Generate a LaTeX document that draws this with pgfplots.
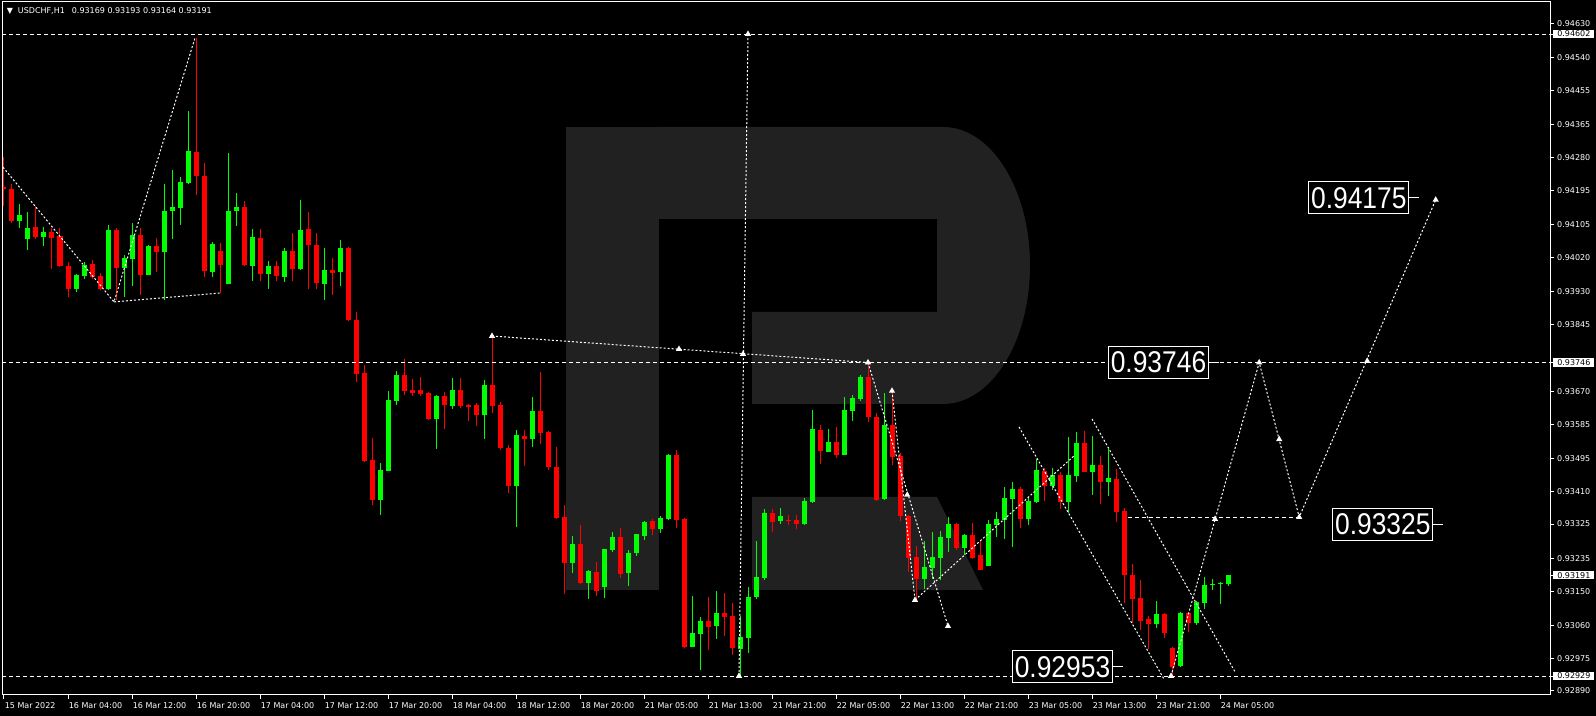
\documentclass[border=0pt]{standalone}
\usepackage{pgfplots}
\pgfplotsset{compat=1.18}
\usepackage{pgfplotstable}
\usepackage{graphicx}
\usepackage{fontspec}
\setmainfont{DejaVu Sans}
\newfontfamily\bigfont{Liberation Sans}
\definecolor{bull}{RGB}{0,255,0}
\definecolor{bear}{RGB}{255,0,0}
\definecolor{logo}{RGB}{33,33,33}

\pgfplotstableread{
x o h l c
2 0.94115 0.94159 0.94097 0.94130
3 0.94068 0.94138 0.94039 0.94096
5 0.94073 0.94099 0.94050 0.94086
9 0.93938 0.93977 0.93930 0.93974
10 0.93971 0.94008 0.93964 0.94000
13 0.93938 0.94104 0.93935 0.94091
15 0.93993 0.94026 0.93917 0.94018
16 0.94016 0.94110 0.93945 0.94078
18 0.93974 0.94052 0.93973 0.94050
20 0.94035 0.94211 0.93909 0.94141
21 0.94141 0.94248 0.94068 0.94151
22 0.94149 0.94229 0.94104 0.94216
23 0.94214 0.94401 0.94212 0.94297
26 0.93982 0.94060 0.93970 0.94055
28 0.93951 0.94292 0.93950 0.94141
29 0.94141 0.94188 0.94102 0.94151
31 0.93998 0.94094 0.93959 0.94073
33 0.93977 0.94010 0.93938 0.93997
35 0.93969 0.94044 0.93957 0.94037
37 0.93990 0.94170 0.93987 0.94091
40 0.93951 0.94044 0.93909 0.93987
42 0.93982 0.94065 0.93945 0.94044
47 0.93388 0.93484 0.93349 0.93466
48 0.93463 0.93672 0.93462 0.93648
49 0.93646 0.93724 0.93635 0.93713
54 0.93599 0.93661 0.93521 0.93659
56 0.93633 0.93706 0.93625 0.93674
60 0.93609 0.93700 0.93547 0.93687
64 0.93424 0.93570 0.93317 0.93557
66 0.93547 0.93656 0.93526 0.93620
71 0.93224 0.93294 0.93197 0.93273
73 0.93171 0.93205 0.93130 0.93203
75 0.93161 0.93261 0.93132 0.93260
76 0.93257 0.93304 0.93252 0.93291
78 0.93197 0.93257 0.93164 0.93250
79 0.93250 0.93300 0.93242 0.93299
80 0.93294 0.93333 0.93284 0.93330
82 0.93312 0.93346 0.93302 0.93341
83 0.93338 0.93508 0.93336 0.93505
86 0.93005 0.93138 0.93004 0.93041
87 0.93038 0.93083 0.92945 0.93072
89 0.93059 0.93151 0.93025 0.93093
92 0.92999 0.93085 0.92929 0.93031
93 0.93028 0.93161 0.92989 0.93135
94 0.93135 0.93281 0.93130 0.93187
95 0.93184 0.93364 0.93179 0.93354
97 0.93333 0.93367 0.93325 0.93346
100 0.93325 0.93393 0.93322 0.93385
101 0.93382 0.93622 0.93381 0.93573
103 0.93513 0.93573 0.93512 0.93539
105 0.93505 0.93656 0.93504 0.93622
106 0.93620 0.93661 0.93594 0.93654
107 0.93651 0.93713 0.93646 0.93708
110 0.93390 0.93667 0.93388 0.93583
115 0.93182 0.93281 0.93157 0.93213
116 0.93210 0.93304 0.93182 0.93239
117 0.93237 0.93308 0.93179 0.93291
118 0.93289 0.93343 0.93252 0.93325
120 0.93263 0.93299 0.93244 0.93297
123 0.93216 0.93336 0.93215 0.93325
124 0.93322 0.93356 0.93291 0.93338
125 0.93336 0.93422 0.93286 0.93393
126 0.93390 0.93435 0.93265 0.93416
128 0.93338 0.93393 0.93322 0.93385
129 0.93382 0.93495 0.93381 0.93466
131 0.93424 0.93471 0.93414 0.93453
133 0.93382 0.93552 0.93354 0.93453
134 0.93450 0.93565 0.93435 0.93537
136 0.93461 0.93555 0.93401 0.93479
138 0.93435 0.93521 0.93398 0.93445
144 0.93065 0.93124 0.93054 0.93091
147 0.92955 0.93095 0.92953 0.93093
149 0.93067 0.93124 0.93062 0.93122
150 0.93119 0.93187 0.93104 0.93166
151 0.93166 0.93182 0.93153 0.93169
152 0.93169 0.93174 0.93117 0.93171
153 0.93169 0.93193 0.93164 0.93191
}\bulltab

\pgfplotstableread{
x o h l c
0 0.94204 0.94282 0.94155 0.94198
1 0.94198 0.94211 0.94109 0.94115
4 0.94099 0.94154 0.94067 0.94072
6 0.94086 0.94097 0.93990 0.94071
7 0.94076 0.94097 0.93995 0.93998
8 0.93997 0.94008 0.93917 0.93938
11 0.94003 0.94013 0.93964 0.93969
12 0.93971 0.93980 0.93935 0.93938
14 0.94091 0.94097 0.93909 0.93993
17 0.94078 0.94097 0.93922 0.93974
19 0.94050 0.94071 0.93982 0.94035
24 0.94295 0.94592 0.94183 0.94232
25 0.94232 0.94266 0.93970 0.93985
27 0.94037 0.94057 0.93926 0.94000
30 0.94151 0.94167 0.93997 0.94000
32 0.94071 0.94094 0.93959 0.93977
34 0.93997 0.94010 0.93959 0.93971
36 0.94037 0.94084 0.93959 0.93990
38 0.94094 0.94138 0.93938 0.94051
39 0.94052 0.94084 0.93938 0.93953
41 0.93987 0.94018 0.93922 0.93979
43 0.94044 0.94046 0.93855 0.93857
44 0.93857 0.93878 0.93695 0.93716
45 0.93719 0.93740 0.93487 0.93489
46 0.93492 0.93549 0.93375 0.93388
50 0.93713 0.93755 0.93661 0.93672
51 0.93674 0.93703 0.93659 0.93667
52 0.93674 0.93708 0.93659 0.93664
53 0.93667 0.93669 0.93597 0.93599
55 0.93659 0.93669 0.93573 0.93635
57 0.93674 0.93706 0.93627 0.93633
58 0.93635 0.93638 0.93594 0.93630
59 0.93635 0.93641 0.93581 0.93609
61 0.93687 0.93815 0.93614 0.93633
62 0.93635 0.93643 0.93518 0.93523
63 0.93523 0.93531 0.93406 0.93424
65 0.93555 0.93570 0.93476 0.93547
67 0.93620 0.93721 0.93534 0.93562
68 0.93565 0.93568 0.93466 0.93474
69 0.93474 0.93526 0.93338 0.93341
70 0.93343 0.93375 0.93143 0.93224
72 0.93273 0.93322 0.93170 0.93171
74 0.93200 0.93226 0.93138 0.93151
77 0.93291 0.93315 0.93184 0.93195
81 0.93333 0.93338 0.93297 0.93312
84 0.93505 0.93518 0.93315 0.93336
85 0.93338 0.93341 0.93002 0.93005
88 0.93072 0.93135 0.92997 0.93057
90 0.93093 0.93145 0.93033 0.93083
91 0.93085 0.93119 0.92984 0.93002
96 0.93354 0.93364 0.93304 0.93330
98 0.93336 0.93349 0.93322 0.93333
99 0.93336 0.93349 0.93312 0.93325
102 0.93570 0.93583 0.93482 0.93515
104 0.93539 0.93578 0.93497 0.93505
108 0.93708 0.93746 0.93591 0.93604
109 0.93604 0.93614 0.93386 0.93388
111 0.93583 0.93672 0.93479 0.93500
112 0.93502 0.93510 0.93333 0.93346
113 0.93346 0.93349 0.93200 0.93237
114 0.93239 0.93268 0.93127 0.93182
119 0.93325 0.93327 0.93257 0.93263
121 0.93297 0.93328 0.93234 0.93237
122 0.93244 0.93281 0.93204 0.93205
127 0.93416 0.93422 0.93315 0.93338
130 0.93463 0.93471 0.93385 0.93424
132 0.93453 0.93461 0.93364 0.93382
135 0.93537 0.93568 0.93460 0.93461
137 0.93479 0.93502 0.93377 0.93435
139 0.93442 0.93469 0.93330 0.93356
140 0.93359 0.93367 0.93119 0.93192
141 0.93192 0.93221 0.93067 0.93130
142 0.93132 0.93179 0.93049 0.93072
143 0.93078 0.93085 0.92999 0.93065
145 0.93091 0.93093 0.93028 0.93041
146 0.93002 0.93004 0.92929 0.92953
148 0.93093 0.93095 0.93044 0.93067
}\beartab

% 1 reference pixel = 0.25pt
\tikzset{
  lvl/.style={white, line width=0.25pt, dash pattern=on 1pt off 0.75pt},
  trend/.style={white, line width=0.25pt, dash pattern=on 0.5pt off 0.5pt},
  bigbox/.style={draw=white, fill=black, text=white, line width=0.25pt, inner sep=0pt,
    minimum width=25pt, minimum height=8pt, anchor=east,
    font=\bigfont\fontsize{7.5}{7.5}\selectfont},
}

\begin{document}
\begin{tikzpicture}[x=0.25pt,y=0.25pt]
\fill[black] (0,0) rectangle (1596,716);
% watermark logo
\fill[logo] (566,126) rectangle (659,589);
\fill[logo] (659,589) -- (943,589) arc[start angle=90,end angle=-90,x radius=87,y radius=138.5]
  -- (752,312) -- (752,404) -- (937,404) -- (937,497) -- (659,497) -- cycle;
\fill[logo] (752,219) -- (937,219) -- (983,126) -- (752,126) -- cycle;

\begin{axis}[
  at={(0.75pt,5.25pt)}, anchor=south west, scale only axis,
  width=386.75pt, height=173.25pt,
  xmin=-0.125, xmax=193.25, ymin=0.928795, ymax=0.946855,
  axis line style={white, line width=0.25pt},
  tick align=outside, major tick length=1pt,
  tick style={white, line width=0.25pt},
  xtick pos=left, ytick pos=right, yticklabel pos=right,
  scaled y ticks=false, scaled x ticks=false,
  xtick={0,8,...,152},
  xticklabels={15 Mar 2022,16 Mar 04:00,16 Mar 12:00,16 Mar 20:00,17 Mar 04:00,17 Mar 12:00,17 Mar 20:00,18 Mar 04:00,18 Mar 12:00,18 Mar 20:00,21 Mar 05:00,21 Mar 13:00,21 Mar 21:00,22 Mar 05:00,22 Mar 13:00,22 Mar 21:00,23 Mar 05:00,23 Mar 13:00,23 Mar 21:00,24 Mar 05:00},
  ytick={0.94630,0.94540,0.94455,0.94365,0.94280,0.94195,0.94105,0.94020,0.93930,0.93845,0.93670,0.93585,0.93495,0.93410,0.93325,0.93235,0.93150,0.93060,0.92975,0.92890},
  yticklabels={0.94630,0.94540,0.94455,0.94365,0.94280,0.94195,0.94105,0.94020,0.93930,0.93845,0.93670,0.93585,0.93495,0.93410,0.93325,0.93235,0.93150,0.93060,0.92975,0.92890},
  tick label style={font=\fontsize{2}{2.4}\selectfont, text=white, inner sep=0.6pt},
  x tick label style={anchor=north west, xshift=-0.6pt},
  y tick label style={anchor=west},
  extra y ticks={0.94602,0.93746,0.93191,0.92929},
  extra y tick labels={0.94602,0.93746,0.93191,0.92929},
  extra y tick style={yticklabel style={fill=white, text=black, inner xsep=1pt, inner ysep=0.25pt, xshift=-0.375pt}},
]
% wicks
\addplot[bull, line width=0.25pt, quiver={u=0, v=\thisrow{h}-\thisrow{l}}] table[x=x, y=l] {\bulltab};
\addplot[bear, line width=0.25pt, quiver={u=0, v=\thisrow{h}-\thisrow{l}}] table[x=x, y=l] {\beartab};
% bodies
\addplot[bull, line width=1.25pt, quiver={u=0, v=\thisrow{c}-\thisrow{o}}] table[x=x, y=o] {\bulltab};
\addplot[bear, line width=1.25pt, quiver={u=0, v=\thisrow{c}-\thisrow{o}}] table[x=x, y=o] {\beartab};

% horizontal levels
\addplot[lvl] coordinates {(-2,0.94602) (200,0.94602)};
\addplot[lvl] coordinates {(-2,0.93746) (200,0.93746)};
\addplot[lvl] coordinates {(-2,0.92929) (200,0.92929)};
\addplot[lvl] coordinates {(140.5,0.93343) (161.9,0.93343)};

% trend lines
\addplot[trend] coordinates {(-0.125,0.94255) (13.75,0.93904) (23.875,0.94592)};
\addplot[trend] coordinates {(13.75,0.93904) (27,0.93927)};
\addplot[trend] coordinates {(61,0.93815) (108,0.93746)};
\addplot[trend] coordinates {(93,0.94602) (91.875,0.92929)};
\addplot[trend] coordinates {(108,0.93746) (118,0.93059)};
\addplot[trend] coordinates {(111,0.93672) (113.875,0.93127)};
\addplot[trend] coordinates {(113.875,0.93127) (133.875,0.93505)};
\addplot[trend] coordinates {(126.875,0.93578) (145,0.92921)};
\addplot[trend] coordinates {(136,0.93599) (153.875,0.92940)};
% forecast path
\addplot[trend] coordinates {(145.875,0.92929) (156.9,0.93746) (161.9,0.93343) (178.96,0.94170)};

% markers
\addplot[only marks, mark=triangle*, mark size=0.5pt, white] coordinates {
(61,0.93815) (84.375,0.93781) (92.375,0.93768) (108,0.93746) (93,0.94602) (91.875,0.92929)
(111,0.93672) (112.9,0.93401) (118,0.93059) (113.875,0.93127)
(145.875,0.92929) (151.375,0.93338) (156.9,0.93746) (159.4,0.93546) (161.9,0.93343) (170.4,0.93750) (178.96,0.94170)};

% label ticks
\addplot[white, line width=0.25pt] coordinates {(175.66,0.94175) (176.9,0.94175)};
\addplot[white, line width=0.25pt] coordinates {(150.625,0.93746) (151.875,0.93746)};
\addplot[white, line width=0.25pt] coordinates {(178.66,0.93325) (179.9,0.93325)};
\addplot[white, line width=0.25pt] coordinates {(138.625,0.92953) (139.875,0.92953)};

\node[bigbox] at (axis cs:175.66,0.94175) {\scalebox{0.88}[1]{0.94175}};
\node[bigbox] at (axis cs:150.625,0.93746) {\scalebox{0.88}[1]{0.93746}};
\node[bigbox] at (axis cs:178.66,0.93325) {\scalebox{0.88}[1]{0.93325}};
\node[bigbox] at (axis cs:138.625,0.92953) {\scalebox{0.88}[1]{0.92953}};
\end{axis}

\node[anchor=west, text=white, inner sep=0pt, font=\fontsize{2}{2.4}\selectfont] at (6,705.3)
  {▼\hspace{1.25pt}USDCHF,H1\hspace{1.75pt}0.93169 0.93193 0.93164 0.93191};

\pgfresetboundingbox
\useasboundingbox (0,0) rectangle (1596,716);
\end{tikzpicture}
\end{document}
